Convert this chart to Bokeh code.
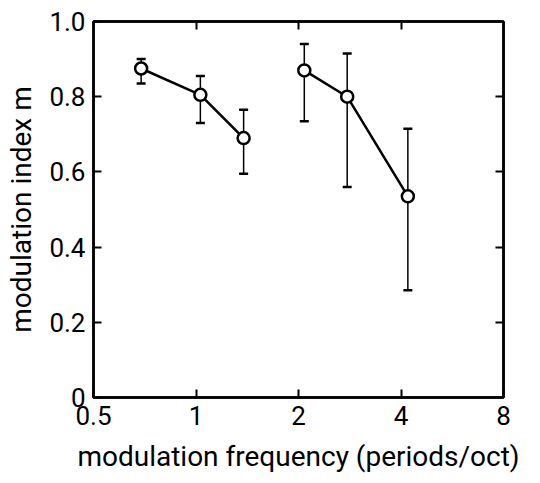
from bokeh.plotting import figure
from bokeh.models import (FixedTicker, CustomJSTickFormatter, LinearAxis, LogAxis,
                          Whisker, ColumnDataSource, TeeHead, Range1d)
from bokeh.embed import file_html
from bokeh.resources import INLINE

# ---- data ----
x_low = [0.69, 1.03, 1.38]
m_low = [0.875, 0.805, 0.69]
lo_low = [0.835, 0.73, 0.595]
hi_low = [0.90, 0.855, 0.765]

x_high = [2.08, 2.78, 4.19]
m_high = [0.87, 0.80, 0.535]
lo_high = [0.735, 0.56, 0.285]
hi_high = [0.94, 0.915, 0.715]

x_ticks = [0.5, 1, 2, 4, 8]
y_ticks = [0, 0.2, 0.4, 0.6, 0.8, 1.0]

FONT = "Roboto"

p = figure(width=524, height=475, x_axis_type="log",
           x_range=Range1d(0.5, 8), y_range=Range1d(0, 1.0),
           output_backend="svg", toolbar_location=None,
           min_border_left=93, min_border_right=21,
           min_border_top=21, min_border_bottom=75)
p.background_fill_color = "white"
p.border_fill_color = "white"
p.outline_line_color = "black"
p.outline_line_width = 2.5
p.xgrid.visible = False
p.ygrid.visible = False

def style_axis(ax, show_labels=True):
    ax.axis_line_color = "black"
    ax.axis_line_width = 2.5
    ax.major_tick_line_color = "black"
    ax.major_tick_line_width = 2
    ax.major_tick_in = 8
    ax.major_tick_out = 0
    ax.minor_tick_line_color = None
    ax.major_label_text_font = FONT
    ax.major_label_text_font_size = "26px"
    ax.major_label_text_color = "black"
    ax.axis_label_text_font = FONT
    ax.axis_label_text_font_size = "28px"
    ax.axis_label_text_font_style = "normal"
    ax.axis_label_text_color = "black"
    if not show_labels:
        ax.major_label_text_color = None
        ax.major_label_standoff = 0

xfmt = CustomJSTickFormatter(code="return tick.toString();")
yfmt = CustomJSTickFormatter(code="return tick == 0 ? '0' : tick.toFixed(1);")

xa = p.xaxis[0]
xa.ticker = FixedTicker(ticks=x_ticks)
xa.formatter = xfmt
style_axis(xa)
xa.major_label_standoff = 8
xa.axis_label = "modulation frequency (periods/oct)"
xa.axis_label_standoff = 12

ya = p.yaxis[0]
ya.ticker = FixedTicker(ticks=y_ticks)
ya.formatter = yfmt
style_axis(ya)
ya.major_label_standoff = 8
ya.axis_label = "modulation index m"
ya.axis_label_standoff = 8

top = LogAxis(ticker=FixedTicker(ticks=x_ticks[1:-1]), formatter=xfmt)
style_axis(top, show_labels=False)
p.add_layout(top, "above")
right = LinearAxis(ticker=FixedTicker(ticks=y_ticks[1:-1]), formatter=yfmt)
style_axis(right, show_labels=False)
p.add_layout(right, "right")

for xs, ms, los, his in [(x_low, m_low, lo_low, hi_low),
                         (x_high, m_high, lo_high, hi_high)]:
    src = ColumnDataSource(dict(x=xs, m=ms, lo=los, hi=his))
    w = Whisker(source=src, base="x", lower="lo", upper="hi",
                line_color="black", line_width=1.5,
                lower_head=TeeHead(size=9, line_color="black", line_width=2.5),
                upper_head=TeeHead(size=9, line_color="black", line_width=2.5))
    p.add_layout(w)
    p.line("x", "m", source=src, line_color="black", line_width=2.5)
    p.scatter("x", "m", source=src, marker="circle", size=12,
              fill_color="white", line_color="black", line_width=2.5)

open("out.html", "w").write(file_html(p, INLINE))
